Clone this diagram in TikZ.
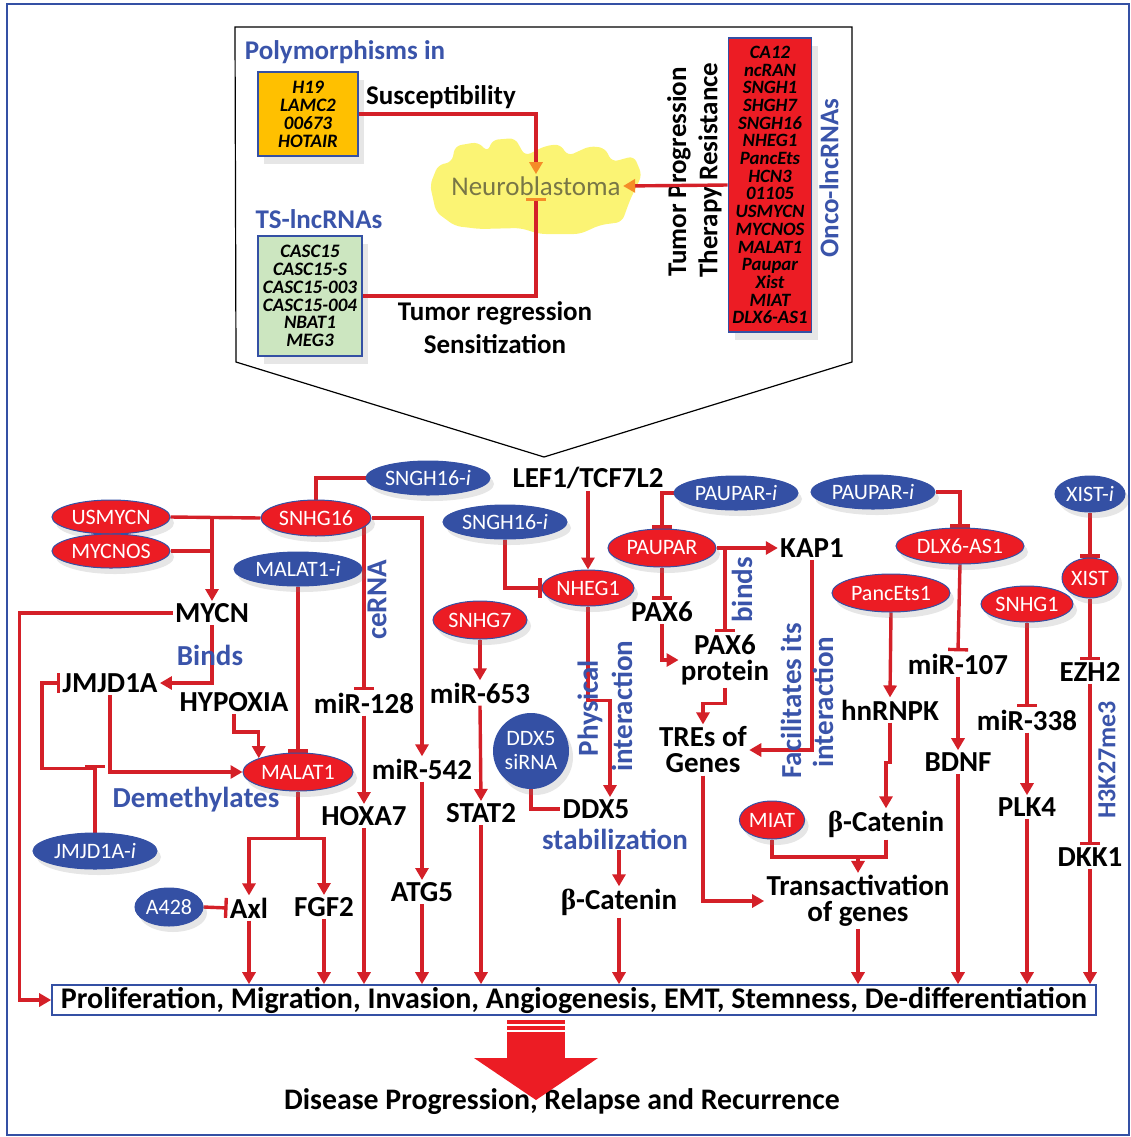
\documentclass[tikz,border=0pt]{standalone}
\usepackage{fontspec}
\setmainfont{Carlito}
\newfontfamily\grkfont{Liberation Serif}
\usetikzlibrary{arrows.meta,shapes.geometric,backgrounds,shadows}

\definecolor{nbred}{RGB}{236,28,36}
\definecolor{lnred}{RGB}{212,32,40}
\definecolor{nbblue}{RGB}{52,80,164}
\definecolor{txblue}{RGB}{58,84,170}
\definecolor{nborange}{RGB}{245,140,40}
\definecolor{boxorange}{RGB}{255,192,0}
\definecolor{boxgreen}{RGB}{204,230,192}
\definecolor{blobyellow}{RGB}{250,240,70}
\definecolor{nbtext}{RGB}{120,118,70}

\newcommand{\bcat}{{\grkfont β}-Catenin}

\begin{document}
\begin{tikzpicture}[x=0.5pt, y=-0.5pt,
    ln/.style={draw=lnred, line width=1.7pt},
    arr/.style={ln, -{Triangle[length=6pt,width=6.5pt]}},
    inh/.style={ln, -{Bar[width=10pt]}},
    nbarr/.style={ln, -{Triangle[length=6pt,width=6.5pt,color=nborange]}},
    nbinh/.style={ln, -{Bar[width=10pt,color=nborange]}},
    lbl/.style={font=\fontsize{14.5}{13}\selectfont\bfseries, inner sep=1pt, align=center},
    note/.style={font=\fontsize{14.5}{14}\selectfont\bfseries, text=txblue, inner sep=0pt},
    head/.style={font=\fontsize{13.5}{14}\selectfont\bfseries, inner sep=0pt},
    redell/.style={ellipse, fill=nbred, draw=nbblue, line width=0.5pt, text=white,
        font=\fontsize{11}{12}\selectfont, inner sep=0pt, minimum height=18pt, minimum width=#1,
        drop shadow={opacity=0.2, shadow xshift=2pt, shadow yshift=-3pt}},
    blueell/.style={redell=#1, fill=nbblue},
    listbox/.style={draw=nbblue, line width=0.8pt, align=center, inner sep=0pt,
        drop shadow={opacity=0.2, shadow xshift=3pt, shadow yshift=-4pt}}
]
\useasboundingbox (0,0) rectangle (1131,1137);
\draw[nbblue, line width=0.8pt] (7,4) rectangle (1129,1135);

% upper panel
\draw[line width=0.6pt] (235,27) -- (852,27) -- (852,362) -- (544,457) -- (236,362) -- cycle;
\fill[blobyellow, opacity=0.75, rounded corners=3pt] (430,185) -- (438,165) -- (452,162) -- (455,146)
    -- (478,142) -- (488,152) -- (492,140) -- (515,138) -- (525,156) -- (545,146) -- (560,144)
    -- (568,156) -- (590,146) -- (605,148) -- (612,162) -- (634,156) -- (642,175) -- (630,200)
    -- (622,222) -- (600,225) -- (580,234) -- (540,234) -- (520,228) -- (480,229) -- (455,226)
    -- (436,212) -- cycle;
\node[font=\fontsize{13.5}{14}\selectfont, text=nbtext, inner sep=1pt] (nb) at (536,186) {Neuroblastoma};

\node[head, text=txblue] (polyT) at (345,52) {Polymorphisms in};
\node[listbox, fill=boxorange, minimum width=50pt, minimum height=42pt,
    font=\fontsize{9.5}{9}\selectfont\bfseries\itshape] (poly) at (308,114) {H19\\LAMC2\\00673\\HOTAIR};
\node[head] (suscep) at (441,97) {Susceptibility};
\node[head, text=txblue] (tsT) at (319,219) {TS-lncRNAs};
\node[listbox, fill=boxgreen, minimum width=52pt, minimum height=60pt,
    font=\fontsize{9.5}{8.9}\selectfont\bfseries\itshape] (ts) at (310,296)
    {CASC15\\CASC15-S\\CASC15-003\\CASC15-004\\NBAT1\\MEG3};
\node[head] (regr) at (495,313) {Tumor regression};
\node[head] (sens) at (495,344) {Sensitization};
\node[head, rotate=90] (prog) at (679,172) {Tumor Progression};
\node[head, rotate=90] (ther) at (710,170) {Therapy Resistance};
\node[listbox, fill=nbred, minimum width=41.5pt, minimum height=147pt,
    font=\fontsize{9.4}{8.85}\selectfont\bfseries\itshape] (onco) at (770,185)
    {CA12\\ncRAN\\SNGH1\\SHGH7\\SNGH16\\NHEG1\\PancEts\\HCN3\\01105\\USMYCN\\MYCNOS\\MALAT1\\Paupar\\Xist\\MIAT\\DLX6-AS1};
\node[head, text=txblue, rotate=90] (oncoT) at (829,178) {Onco-lncRNAs};

\draw[nbarr] (poly.east) -| (nb.north);
\draw[nbinh] (ts.east) -| (nb.south);
\draw[nbarr] (onco.west) -- (nb.east);

% lower panel
\node[blueell=62pt, minimum height=17pt] (sngh16a) at (428,478) {SNGH16-\textit{i}};
\node[lbl] (lef) at (588,478) {LEF1/TCF7L2};
\node[blueell=62pt, minimum height=17pt] (paupari) at (736,493) {PAUPAR-\textit{i}};
\node[blueell=62pt, minimum height=17pt] (pauparii) at (873,492) {PAUPAR-\textit{i}};
\node[blueell=35pt] (xisti) at (1090,494) {XIST-\textit{i}};
\node[redell=59pt, minimum height=17pt] (usmycn) at (111,517) {USMYCN};
\node[redell=59pt, minimum height=17pt] (mycnos) at (111,551) {MYCNOS};
\node[redell=55pt] (snhg16) at (316,518) {SNHG16};
\node[blueell=62pt, minimum height=17pt] (sngh16b) at (505,522) {SNGH16-\textit{i}};
\node[redell=54pt, minimum height=19pt] (paupar) at (662,548) {PAUPAR};
\node[lbl] (kap1) at (812,548) {KAP1};
\node[redell=64pt] (dlx) at (960,546) {DLX6-AS1};
\node[redell=28pt, minimum height=20pt] (xist) at (1090,578) {XIST};
\node[blueell=64pt, minimum height=17pt] (malati) at (298,569) {MALAT1-\textit{i}};
\node[redell=46pt] (nheg1) at (588,588) {NHEG1};
\node[redell=59pt, minimum height=19pt] (pancets) at (891,593) {PancEts1};
\node[redell=46pt] (snhg1) at (1027,604) {SNHG1};
\node[lbl] (mycn) at (212,613) {MYCN};
\node[redell=47pt, minimum height=19pt] (snhg7) at (480,620) {SNHG7};
\node[lbl] (pax6) at (662,612) {PAX6};
\node[note, rotate=90] (cerna) at (377,600) {ceRNA};
\node[note] (binds) at (210,655) {Binds};
\node[lbl] (jmjd) at (110,683) {JMJD1A};
\node[lbl] (pax6p) at (725,660) {PAX6\\protein};
\node[note, rotate=90] (bindsR) at (742,590) {binds};
\node[lbl] (mir107) at (958,664) {miR-107};
\node[lbl] (ezh2) at (1090,672) {EZH2};
\node[lbl] (hypoxia) at (234,702) {HYPOXIA};
\node[lbl] (mir128) at (364,703) {miR-128};
\node[lbl] (mir653) at (480,693) {miR-653};
\node[note, rotate=90] (phys) at (590,708) {Physical};
\node[note, rotate=90] (inter1) at (622,706) {interaction};
\node[lbl] (hnrnpk) at (890,710) {hnRNPK};
\node[lbl] (mir338) at (1027,720) {miR-338};
\node[lbl] (tres) at (703,750) {TREs of\\Genes};
\node[note, rotate=90] (facil) at (791,701) {Facilitates its};
\node[note, rotate=90] (inter2) at (823,702) {interaction};
\node[note, rotate=90, font=\fontsize{13}{14}\selectfont\bfseries] (h3k) at (1107,760) {H3K27me3};
\node[circle, fill=nbblue, text=white, minimum size=38pt, inner sep=0pt, align=center,
    font=\fontsize{11}{12}\selectfont, drop shadow={opacity=0.2, shadow xshift=2pt, shadow yshift=-3pt}]
    (ddx5si) at (531,751) {DDX5\\siRNA};
\node[redell=55pt, minimum height=19pt] (malat) at (298,772) {MALAT1};
\node[lbl] (mir542) at (422,769) {miR-542};
\node[lbl] (bdnf) at (958,762) {BDNF};
\node[note] (demeth) at (196,800) {Demethylates};
\node[lbl] (hoxa7) at (364,816) {HOXA7};
\node[lbl] (stat2) at (481,813) {STAT2};
\node[lbl] (ddx5) at (596,809) {DDX5};
\node[note] (stab) at (615,839) {stabilization};
\node[lbl] (plk4) at (1027,807) {PLK4};
\node[redell=32pt, minimum height=19pt] (miat) at (772,820) {MIAT};
\node[lbl] (bcat2) at (886,824) {\bcat};
\node[blueell=62pt] (jmjdi) at (95,851) {JMJD1A-\textit{i}};
\node[lbl] (dkk1) at (1090,857) {DKK1};
\node[blueell=34pt, minimum height=19pt] (a428) at (169,907) {A428};
\node[lbl] (axl) at (249,908) {Axl};
\node[lbl] (fgf2) at (324,907) {FGF2};
\node[lbl] (atg5) at (422,892) {ATG5};
\node[lbl] (bcat1) at (619,902) {\bcat};
\node[lbl] (trans) at (858,901) {Transactivation\\of genes};
\node[draw=nbblue, line width=0.8pt, minimum width=522pt, minimum height=15pt, inner sep=0pt,
    font=\fontsize{15}{15}\selectfont\bfseries] (prolif) at (574,1000)
    {Proliferation, Migration, Invasion, Angiogenesis, EMT, Stemness, De-differentiation};
\node[font=\fontsize{14.9}{15}\selectfont\bfseries, inner sep=0pt] (disease) at (562,1102)
    {Disease Progression, Relapse and Recurrence};
\coordinate (cjoin) at ([yshift=8pt]trans.north);

\begin{scope}[on background layer]
\draw[ln] (sngh16a.west) -| (snhg16.north);
\draw[ln] (usmycn.east) -- (snhg16.west);
\draw[ln] (mycnos.east) -- (mycnos.east -| mycn);
\draw[arr] (usmycn.east -| mycn) -- (mycn.north);
\draw[arr] (snhg16.east) -| (mir542.north);
\draw[inh] (snhg16.center -| mir128) -- (mir128.north);
\draw[arr] (mycn.west) -- ++(-153,0) |- (prolif.west);
\draw[arr] (mycn.south) |- (jmjd.east);
\draw[inh] (jmjdi.north) -- ++(0,-68);
\draw[inh] (jmjdi.north) ++(0,-64) -| ([xshift=-9pt]jmjd.west) -- (jmjd.west);
\draw[arr] (jmjd.south) |- (malat.west);
\draw[arr] (hypoxia.south) -- ++(0,18) -| (malat.north west);
\draw[inh] (malati.south) -- (malat.north);
\draw[arr] (malat.south) -- ++(0,47) -| (axl.north);
\draw[arr] (malat.south) ++(0,47) -| (fgf2.north);
\draw[inh] (a428.east) -- (axl.west);
\draw[arr] (mir128.south) -- (hoxa7.north);
\draw[arr] (mir542.south) -- (atg5.north);
\draw[arr] (snhg7.south) -- (mir653.north);
\draw[arr] (mir653.south) -- (stat2.north);
\draw[ln] (ddx5si.south) |- (ddx5.west);
\draw[arr] (nheg1.south) -- ++(0,94) -| ([xshift=7pt]ddx5.north);
\draw[arr] (stab.south -| bcat1) -- (bcat1.north);
\draw[inh] (sngh16b.south) |- (nheg1.west);
\draw[arr] (lef.south) -- (nheg1.north);
\draw[inh] (paupari.west) -| (paupar.north);
\draw[inh] (paupar.south) -- (pax6.north);
\draw[arr] (paupar.east) -- (kap1.west);
\draw[inh] (paupar.east -| pax6p) -- (pax6p.north);
\draw[arr] (pax6.south) |- (pax6p.west);
\draw[arr] (pax6p.south) -- ++(0,16) -| (tres.north);
\draw[arr] (kap1.south) |- (tres.east);
\draw[arr] (tres.south) |- (trans.west);
\draw[inh] (pauparii.east) -| (dlx.north);
\draw[inh] (dlx.south) -- (mir107.north);
\draw[arr] (mir107.south) -- (bdnf.north);
\draw[arr] (pancets.south) -- (hnrnpk.north);
\draw[arr] (hnrnpk.south) -- ++(0,40) -| (bcat2.north);
\draw[ln] (bcat2.south) |- (cjoin);
\draw[ln] (miat.south) |- (cjoin);
\draw[arr] (cjoin) -- (trans.north);
\draw[inh] (snhg1.south) -- (mir338.north);
\draw[arr] (mir338.south) -- (plk4.north);
\draw[inh] (xisti.south) -- (xist.north);
\draw[inh] (xist.south) -- (ezh2.north);
\draw[inh] (ezh2.south) -- (dkk1.north);
\draw[arr] (axl.south) -- (axl.south |- prolif.north);
\draw[arr] (fgf2.south) -- (fgf2.south |- prolif.north);
\draw[arr] (hoxa7.south) -- (hoxa7.south |- prolif.north);
\draw[arr] (atg5.south) -- (atg5.south |- prolif.north);
\draw[arr] (stat2.south) -- (stat2.south |- prolif.north);
\draw[arr] (bcat1.south) -- (bcat1.south |- prolif.north);
\draw[arr] (trans.south) -- (trans.south |- prolif.north);
\draw[arr] (bdnf.south) -- (bdnf.south |- prolif.north);
\draw[arr] (plk4.south) -- (plk4.south |- prolif.north);
\draw[arr] (dkk1.south) -- (dkk1.south |- prolif.north);
\end{scope}

% big arrow
\fill[nbred] (507,1020) rectangle (565,1060);
\fill[nbred] (474,1058) -- (598,1058) -- (536,1100) -- cycle;
\draw[white, line width=1pt] (507,1025) -- (565,1025);
\draw[white, line width=1pt] (507,1031) -- (565,1031);
\end{tikzpicture}
\end{document}
